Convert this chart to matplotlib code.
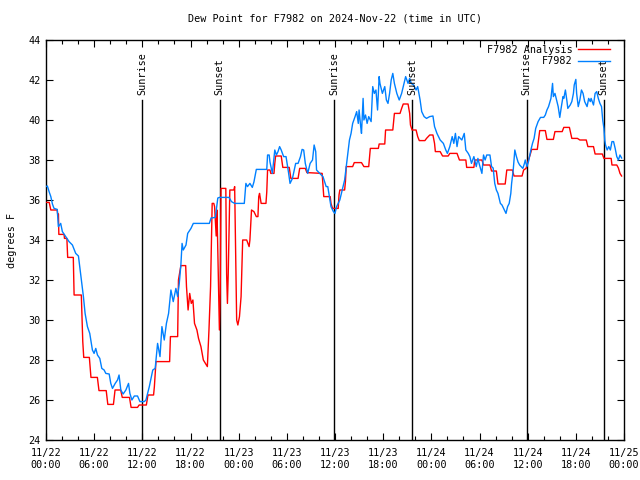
import matplotlib
matplotlib.use("Agg")
import matplotlib.pyplot as plt
import matplotlib.dates as mdates
import numpy as np
import pandas as pd

# ---- data (hours since 2024-11-22 00:00 UTC) ----
analysis_t = [0.0, 0.4, 0.6, 1.4, 1.45, 1.55, 1.6, 2.25, 2.3, 2.6, 2.7, 3.4, 3.5, 4.4, 4.58, 4.7, 5.4, 5.6, 6.4,
              6.6, 7.5, 7.7, 8.4, 8.6, 9.3, 9.5, 10.4, 10.6, 11.4, 11.6, 12.5, 12.7, 13.4, 13.5, 13.7, 15.4, 15.5,
              16.4, 16.5, 16.8, 17.4, 17.5, 17.7, 17.9, 18.1, 18.3, 18.5, 18.8, 19.0, 19.3, 19.6, 20.1, 20.3, 20.5,
              20.7, 20.9, 21.0, 21.2, 21.3, 21.6, 21.7, 21.8, 22.4, 22.5, 22.6, 22.7, 22.9, 23.4, 23.5, 23.6, 23.75,
              23.9, 24.1, 24.3, 24.5, 25.0, 25.3, 25.4, 25.6, 25.9, 26.2, 26.4, 26.5, 26.6, 26.8, 27.4, 27.5, 27.6,
              27.9, 28.0, 28.4, 28.5, 28.6, 29.3, 29.5, 30.3, 30.5, 31.4, 31.6, 32.3, 32.5, 34.4, 34.6, 35.4, 35.5,
              35.7, 36.4, 36.5, 36.6, 37.2, 37.3, 37.4, 38.2, 38.4, 39.3, 39.6, 40.2, 40.4, 41.4, 41.5, 42.2, 42.3,
              43.2, 43.4, 44.1, 44.3, 44.5, 45.1, 45.3, 45.4, 45.6, 46.1, 46.3, 46.5, 47.2, 47.4, 47.8, 48.2, 48.4,
              48.5, 49.1, 49.4, 50.1, 50.3, 51.2, 51.5, 52.3, 52.4, 53.3, 53.4, 54.3, 54.5, 55.3, 55.5, 56.1, 56.3,
              57.2, 57.4, 58.1, 58.3, 59.3, 59.5, 59.8, 59.9, 60.3, 60.5, 61.2, 61.5, 62.2, 62.4, 63.2, 63.4, 64.3,
              64.5, 65.2, 65.5, 66.2, 66.5, 67.3, 67.5, 68.2, 68.4, 69.3, 69.5, 70.4, 70.5, 71.1, 71.3, 71.5, 71.7]
analysis_v = [35.88, 35.88, 35.5, 35.5, 35.3, 35.3, 34.28, 34.28, 34.08, 34.08, 33.13, 33.13, 31.25, 31.25, 28.92,
              28.13, 28.13, 27.13, 27.13, 26.47, 26.47, 25.78, 25.78, 26.5, 26.5, 26.13, 26.13, 25.63, 25.63, 25.75,
              25.75, 26.25, 26.25, 26.67, 27.92, 27.92, 29.17, 29.17, 32.0, 32.72, 32.72, 31.67, 30.5, 31.33, 30.83,
              31.0, 29.83, 29.5, 29.08, 28.67, 28.0, 27.67, 29.5, 31.67, 35.83, 35.83, 35.67, 34.2, 35.5, 29.5, 31.33,
              36.58, 36.58, 32.3, 30.83, 32.3, 36.5, 36.5, 36.67, 34.0, 30.0, 29.75, 30.17, 31.17, 34.0, 34.0, 33.67,
              34.0, 35.5, 35.42, 35.17, 35.17, 36.17, 36.33, 35.83, 35.83, 36.4, 37.5, 37.5, 37.33, 37.33, 37.83,
              38.2, 38.2, 37.63, 37.63, 37.08, 37.08, 37.58, 37.58, 37.37, 37.33, 36.17, 36.17, 35.83, 35.58, 35.58,
              36.25, 36.5, 36.5, 36.92, 37.67, 37.67, 37.87, 37.87, 37.67, 37.67, 38.58, 38.58, 38.8, 38.8, 39.5,
              39.5, 40.33, 40.33, 40.58, 40.8, 40.8, 40.33, 39.75, 39.5, 39.5, 39.17, 38.97, 38.97, 39.08, 39.25,
              39.25, 38.83, 38.42, 38.42, 38.2, 38.2, 38.33, 38.33, 38.0, 38.0, 37.63, 37.63, 38.0, 38.0, 37.75,
              37.75, 37.45, 37.45, 36.8, 36.8, 37.5, 37.5, 37.2, 37.2, 37.5, 37.58, 37.75, 38.25, 38.53, 38.53, 39.47,
              39.47, 39.03, 39.03, 39.42, 39.42, 39.63, 39.63, 39.08, 39.08, 39.0, 39.0, 38.67, 38.67, 38.3, 38.3,
              38.08, 38.08, 37.75, 37.75, 37.6, 37.33, 37.2]

station_t = [0.0, 0.17, 0.4, 0.6, 0.8, 1.0, 1.4, 1.54, 1.7, 1.83, 2.04, 2.45, 2.87, 3.29, 3.7, 4.04, 4.2, 4.41, 4.66,
             4.87, 5.16, 5.45, 5.78, 5.99, 6.2, 6.41, 6.7, 6.95, 7.24, 7.45, 7.87, 8.07, 8.28, 8.62, 8.91, 9.1, 9.32,
             9.61, 9.95, 10.28, 10.45, 10.7, 11.0, 11.4, 11.7, 12.24, 12.45, 12.87, 13.3, 13.6, 13.9, 14.2, 14.44,
             14.73, 15.0, 15.27, 15.56, 15.85, 16.18, 16.4, 16.6, 16.8, 16.95, 17.1, 17.44, 17.65, 18.06, 18.35,
             20.35, 20.56, 21.1, 21.4, 21.6, 22.8, 23.1, 23.5, 24.7, 24.9, 25.1, 25.4, 25.7, 25.9, 26.2, 27.5, 27.6,
             27.8, 27.9, 28.2, 28.5, 28.7, 28.9, 29.1, 29.3, 29.6, 29.9, 30.2, 30.4, 30.7, 31.1, 31.4, 31.7, 31.9,
             32.1, 32.3, 32.6, 32.9, 33.2, 33.4, 33.6, 33.7, 34.1, 34.5, 34.9, 35.1, 35.3, 35.5, 35.8, 36.0, 36.2,
             36.6, 36.9, 37.2, 37.4, 37.6, 37.8, 38.0, 38.2, 38.5, 38.7, 38.9, 39.0, 39.2, 39.3, 39.5, 39.6, 39.8,
             40.0, 40.2, 40.5, 40.7, 40.9, 41.1, 41.3, 41.5, 41.6, 41.9, 42.2, 42.4, 42.6, 42.8, 43.0, 43.2, 43.4,
             43.7, 44.0, 44.3, 44.5, 44.8, 45.1, 45.3, 45.5, 45.8, 46.1, 46.3, 46.6, 46.8, 47.1, 47.4, 47.8, 48.2,
             48.4, 48.7, 49.1, 49.5, 49.8, 50.0, 50.3, 50.6, 50.8, 51.0, 51.2, 51.4, 51.8, 52.1, 52.3, 52.6, 52.8,
             53.0, 53.3, 53.6, 53.8, 54.0, 54.3, 54.5, 54.7, 54.9, 55.1, 55.3, 55.5, 55.7, 55.9, 56.1, 56.3, 56.6,
             56.8, 57.0, 57.3, 57.5, 57.7, 57.9, 58.0, 58.2, 58.4, 58.6, 58.8, 59.0, 59.4, 59.6, 59.7, 59.9, 60.1,
             60.4, 60.6, 60.8, 61.0, 61.3, 61.6, 62.0, 62.2, 62.4, 62.6, 62.9, 63.1, 63.2, 63.4, 63.6, 63.8, 64.0,
             64.2, 64.4, 64.5, 64.7, 64.9, 65.0, 65.3, 65.5, 65.7, 65.8, 66.0, 66.1, 66.3, 66.5, 66.7, 66.9, 67.1,
             67.4, 67.6, 67.8, 67.9, 68.2, 68.4, 68.6, 68.8, 69.0, 69.2, 69.35, 69.5, 69.6, 69.7, 69.9, 70.1, 70.3,
             70.5, 70.7, 70.9, 71.1, 71.3, 71.5, 71.7]
station_v = [36.67, 36.7, 36.4, 36.17, 35.8, 35.58, 35.53, 34.67, 34.75, 34.83, 34.42, 34.17, 33.92, 33.75, 33.33,
             33.2, 32.67, 32.0, 31.17, 30.33, 29.67, 29.33, 28.5, 28.33, 28.58, 28.25, 28.08, 27.58, 27.5, 27.33,
             27.3, 26.83, 26.58, 26.83, 27.0, 27.25, 26.5, 26.3, 26.5, 26.83, 26.33, 26.0, 26.2, 26.2, 25.92, 25.92,
             26.0, 26.67, 27.5, 27.58, 28.83, 28.17, 29.67, 29.0, 29.83, 30.33, 31.5, 30.92, 31.58, 31.17, 31.83,
             32.75, 33.83, 33.5, 33.75, 34.33, 34.58, 34.83, 34.83, 35.1, 35.13, 36.1, 36.13, 36.13, 35.92, 35.83,
             35.83, 36.83, 36.67, 36.83, 36.63, 36.9, 37.53, 37.53, 38.25, 38.25, 37.9, 37.33, 38.5, 38.25, 38.42,
             38.67, 38.5, 38.17, 38.17, 37.4, 36.83, 37.08, 37.83, 37.83, 38.17, 38.53, 38.5, 37.83, 37.33, 37.83,
             38.0, 38.75, 38.42, 37.5, 37.33, 37.17, 36.67, 36.67, 36.17, 35.67, 35.42, 35.33, 35.67, 36.0, 36.5,
             37.0, 37.67, 38.33, 39.0, 39.33, 39.83, 40.17, 40.42, 39.83, 40.5, 39.67, 39.33, 41.08, 40.0, 40.25,
             39.83, 40.17, 39.92, 41.67, 41.33, 41.5, 40.5, 42.17, 41.83, 41.33, 41.67, 41.0, 40.83, 41.33, 42.0,
             42.33, 41.83, 41.33, 41.0, 41.33, 41.67, 42.17, 41.83, 42.08, 41.83, 41.75, 41.5, 41.67, 41.0, 40.42,
             40.17, 40.08, 40.17, 40.2, 39.67, 39.33, 39.0, 38.83, 38.5, 38.33, 38.67, 39.17, 38.83, 39.33, 38.67,
             39.17, 39.0, 39.33, 38.5, 38.33, 38.17, 37.83, 38.17, 37.67, 38.08, 37.75, 37.33, 38.25, 38.0, 38.25,
             38.25, 38.25, 37.67, 37.6, 36.83, 36.5, 36.33, 35.83, 35.75, 35.58, 35.33, 35.67, 35.83, 36.33, 36.83,
             37.5, 38.5, 38.17, 37.9, 37.75, 37.58, 37.83, 38.0, 37.67, 37.92, 38.5, 38.83, 39.08, 39.58, 39.92,
             40.13, 40.13, 40.25, 40.5, 40.67, 41.08, 41.83, 41.17, 41.33, 41.0, 40.67, 40.13, 40.67, 41.17, 41.08,
             41.5, 40.92, 40.58, 40.75, 40.92, 41.33, 41.75, 42.03, 41.33, 40.67, 41.0, 41.5, 41.33, 40.92, 40.67,
             41.08, 40.92, 41.08, 40.75, 41.33, 41.42, 41.08, 40.83, 40.67, 40.0, 39.58, 39.0, 38.75, 38.5, 38.67,
             38.5, 38.92, 38.92, 38.58, 38.17, 38.0, 38.25, 38.1]

sunrise_h = [11.95, 35.9, 59.9]
sunset_h = [21.65, 45.6, 69.45]

series_labels = ["F7982 Analysis", "F7982"]
title = "Dew Point for F7982 on 2024-Nov-22 (time in UTC)"
ylabel = "degrees F"

# ---- plotting ----
base = pd.Timestamp("2024-11-22 00:00")
def to_dt(hours):
    return base + pd.to_timedelta(np.asarray(hours), unit="h")

FONT = "DejaVu Sans Mono"
FS = 7.3
plt.rcParams["font.family"] = FONT

fig = plt.figure(figsize=(6.4, 4.8), dpi=100)
ax = fig.add_axes([46 / 640, 40 / 480, 578 / 640, 400 / 480])

ax.plot(to_dt(analysis_t), analysis_v, color="#ff0000", lw=1.0, label=series_labels[0], zorder=3)
ax.plot(to_dt(station_t), station_v, color="#0080ff", lw=1.0, label=series_labels[1], zorder=4)

for h in sunrise_h:
    ax.plot(to_dt([h, h]), [41.0, 24.0], color="black", lw=1.0, zorder=2)
    ax.text(to_dt([h])[0], 41.25, "Sunrise", rotation=90, ha="center", va="bottom", fontsize=FS, zorder=5)
for h in sunset_h:
    ax.plot(to_dt([h, h]), [41.0, 24.0], color="black", lw=1.0, zorder=2)
    ax.text(to_dt([h])[0], 41.25, "Sunset", rotation=90, ha="center", va="bottom", fontsize=FS, zorder=5)

ax.set_xlim(base, base + pd.Timedelta(hours=72))
ax.set_ylim(24, 44)
ax.set_yticks(np.arange(24, 45, 2))
ax.xaxis.set_major_locator(mdates.HourLocator(byhour=[0, 6, 12, 18]))
ax.xaxis.set_minor_locator(mdates.HourLocator(byhour=range(0, 24, 2)))
ax.xaxis.set_major_formatter(mdates.DateFormatter("%m/%d\n%H:%M"))
ax.tick_params(which="major", direction="in", length=5, width=0.8, top=True, right=True,
               labelsize=FS, pad=6)
ax.tick_params(which="minor", direction="in", length=3, width=0.8, top=True, right=True)
ax.tick_params(axis="y", pad=4)
for s in ax.spines.values():
    s.set_linewidth(1.0)

ax.set_title(title, fontsize=FS, pad=13)
ax.set_ylabel(ylabel, fontsize=FS, labelpad=8)

leg = ax.legend(loc="upper right", bbox_to_anchor=(0.976, 0.988), frameon=False, markerfirst=False,
                fontsize=FS, handlelength=3.2, handletextpad=0.5, borderaxespad=0.0,
                labelspacing=0.15, borderpad=0.0)
leg.set_zorder(10)

fig.savefig("out.png", dpi=100)
